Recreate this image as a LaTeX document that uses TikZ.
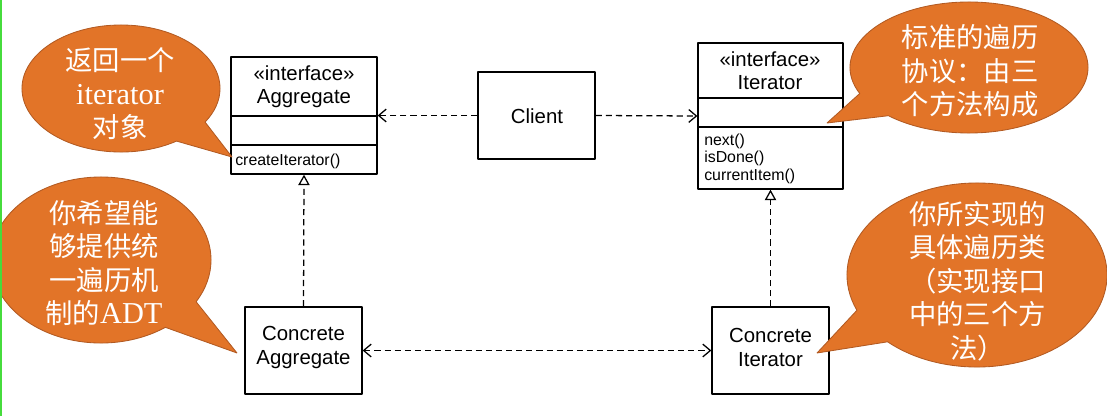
\documentclass[tikz,border=0pt]{standalone}
\usepackage{fontspec}
\setmainfont{Liberation Serif}
\newfontfamily\cjk[Scale=0.9]{Noto Sans CJK SC}
\newfontfamily\umlfont{Liberation Sans}
\usetikzlibrary{arrows.meta,shapes.callouts}
\definecolor{tipfill}{RGB}{226,116,40}
\definecolor{tipedge}{RGB}{178,90,34}
\definecolor{slidegreen}{RGB}{70,220,60}

\begin{document}
\begin{tikzpicture}[x=0.025cm,y=-0.025cm,line join=bevel,
  umlbox/.style={draw,line width=0.9pt,inner sep=0pt},
  umltext/.style={inner sep=0pt,align=center,font=\umlfont\fontsize{14.5}{16.6}\selectfont},
  umlop/.style={inner sep=0pt,anchor=west,align=left,font=\umlfont\fontsize{11.3}{12.45}\selectfont},
  dep/.style={line width=0.9pt,dash pattern=on 4.4pt off 2.8pt,-{Straight Barb[length=1.9mm,width=3.2mm]}},
  depboth/.style={dep,{Straight Barb[length=1.9mm,width=3.2mm]}-{Straight Barb[length=1.9mm,width=3.2mm]}},
  realize/.style={line width=0.9pt,dash pattern=on 4.4pt off 2.8pt,-{Triangle[open,length=2.6mm,width=2.8mm]}},
  tip/.style={ellipse callout,draw=tipedge,fill=tipfill,line width=0.6pt,callout pointer arc=24,inner sep=0pt},
  tiptext/.style={text=white,align=center,inner sep=0pt,font=\fontsize{21.6}{23.8}\selectfont}]
\useasboundingbox (0,0) rectangle (1107,416);

\coordinate (aggtip) at (232,157);
\coordinate (caggtip) at (237,353);
\coordinate (itertip) at (827,123);
\coordinate (citertip) at (817,353);

\node[umlbox,minimum width=3.65cm,minimum height=2.925cm] (agg) at (304,115.5) {};
\draw[line width=0.9pt] (agg.west |- 0,116) -- (agg.east |- 0,116);
\draw[line width=0.9pt] (agg.west |- 0,145) -- (agg.east |- 0,145);
\node[umltext] (aggname) at (304,86.5) {«interface»\\Aggregate};
\node[umlop] (aggop) at (235,161) {createIterator()};

\node[umlbox,minimum width=2.925cm,minimum height=2.175cm] (client) at (536.5,115.5) {};
\node[umltext] (clientname) at (537,116) {Client};

\node[umlbox,minimum width=3.625cm,minimum height=3.65cm] (iter) at (770.5,116) {};
\draw[line width=0.9pt] (iter.west |- 0,98) -- (iter.east |- 0,98);
\draw[line width=0.9pt] (iter.west |- 0,127) -- (iter.east |- 0,127);
\node[umltext] (itername) at (770,70.5) {«interface»\\Iterator};
\node[umlop] (iterop) at (704,158.5) {next()\\isDone()\\currentItem()};

\node[umlbox,minimum width=2.925cm,minimum height=2.175cm] (cagg) at (303.5,350.5) {};
\node[umltext] (caggname) at (303.5,347.5) {Concrete\\Aggregate};
\node[umlbox,minimum width=2.925cm,minimum height=2.175cm] (citer) at (770.5,350.5) {};
\node[umltext] (citername) at (770.5,347.5) {Concrete\\Iterator};

\draw[dep] (client.west) -- (agg.east);
\draw[dep] (client.east) -- (iter.west);
\draw[realize] (cagg.north) -- (agg.south);
\draw[realize] (citer.north) -- (iter.south);
\draw[depboth] (cagg.east) -- (citer.west);

\node[tip,minimum width=4.95cm,minimum height=3.175cm,callout absolute pointer=(aggtip)] (tipagg) at (121,88.5) {};
\node[tiptext] (tipaggtext) at (120,94) {{\cjk 返回一个}\\iterator\\{\cjk 对象}};

\node[tip,minimum width=5.5cm,minimum height=4.15cm,callout absolute pointer=(caggtip)] (tipcagg) at (101,260) {};
\node[tiptext] (tipcaggtext) at (104,263) {{\cjk 你希望能}\\{\cjk 够提供统}\\{\cjk 一遍历机}\\{\cjk 制的}ADT};

\node[tip,minimum width=5.95cm,minimum height=3.275cm,callout absolute pointer=(itertip)] (tipiter) at (969,67.5) {};
\node[tiptext] (tipitertext) at (970,71) {{\cjk 标准的遍历}\\{\cjk 协议：由三}\\{\cjk 个方法构成}};

\node[tip,minimum width=6.5cm,minimum height=4.6cm,callout absolute pointer=(citertip)] (tipciter) at (977,275) {};
\node[tiptext] (tipcitertext) at (977.5,281) {{\cjk 你所实现的}\\{\cjk 具体遍历类}\\{\cjk （实现接口}\\{\cjk 中的三个方}\\{\cjk 法）}};

\draw[slidegreen,line width=1.4pt] (1,0) -- (1,416);
\end{tikzpicture}
\end{document}
